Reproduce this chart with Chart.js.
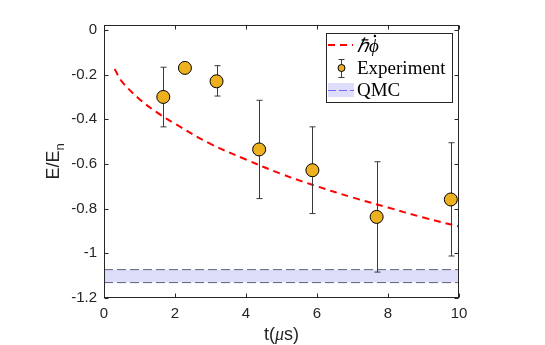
<!DOCTYPE html>
<html>
<head>
<meta charset="utf-8">
<script src="https://cdn.jsdelivr.net/npm/chart.js@4"></script>
<style>
  html, body { margin: 0; padding: 0; background: #fff; }
  #wrap { width: 545px; height: 345px; }
</style>
</head>
<body>
<div id="wrap"><canvas id="myChart" width="545" height="345"></canvas></div>
<script>
// curva hbar*phi-dot
const curveT = [0.3, 0.5, 1, 1.5, 2, 3, 4, 5, 6, 7, 8, 9, 10];
const curveE = [-0.175, -0.23, -0.31, -0.37, -0.42, -0.51, -0.58, -0.645, -0.70, -0.75, -0.795, -0.84, -0.88];

// pontos experimentais e barras de erro
const expT = [1.67, 2.28, 3.17, 4.37, 5.87, 7.68, 9.77];
const expE = [-0.30, -0.17, -0.23, -0.535, -0.628, -0.837, -0.759];
const expErrHi = [-0.167, -0.155, -0.160, -0.315, -0.434, -0.59, -0.505];
const expErrLo = [-0.434, -0.185, -0.296, -0.755, -0.822, -1.084, -1.012];

// faixa QMC
const qmcT = [0, 10];
const qmcTop = [-1.073, -1.073];
const qmcBottom = [-1.131, -1.131];

const xTicks = [0, 2, 4, 6, 8, 10];
const yTicks = [0, -0.2, -0.4, -0.6, -0.8, -1, -1.2];

const corEixo = '#262626';
const corPonto = '#EDB120';
const corQmcLinha = 'rgb(95,95,120)';
const corQmcFaixa = 'rgb(222,222,250)';
const sans = '"Liberation Sans", Arial, sans-serif';
const serif = '"Liberation Serif", "Times New Roman", serif';

function pares(xs, ys) {
    return xs.map((x, i) => ({ x: x, y: ys[i] }));
}

function formatarTick(v) {
    return String(parseFloat(v.toFixed(1)));
}

const pluginErro = {
    id: 'barrasErro',
    beforeDatasetDraw(chart, args) {
        if (args.index !== 0) return;
        const c = chart.ctx, sx = chart.scales.x, sy = chart.scales.y;
        c.save();
        c.strokeStyle = '#3a3a3a';
        c.lineWidth = 1;
        expT.forEach((t, i) => {
            const px = Math.round(sx.getPixelForValue(t)) + 0.5;
            const yh = sy.getPixelForValue(expErrHi[i]);
            const yl = sy.getPixelForValue(expErrLo[i]);
            c.beginPath();
            c.moveTo(px, yh); c.lineTo(px, yl);
            c.moveTo(px - 3, yh); c.lineTo(px + 3, yh);
            c.moveTo(px - 3, yl); c.lineTo(px + 3, yl);
            c.stroke();
        });
        c.restore();
    }
};

const pluginMoldura = {
    id: 'moldura',
    afterDraw(chart) {
        const c = chart.ctx, a = chart.chartArea, sx = chart.scales.x, sy = chart.scales.y;
        const L = Math.round(a.left) + 0.5, R = Math.round(a.right) - 0.5;
        const T = Math.round(a.top) + 0.5, B = Math.round(a.bottom) - 0.5;
        c.save();
        c.strokeStyle = corEixo;
        c.lineWidth = 1;
        c.strokeRect(L, T, R - L, B - T);
        c.beginPath();
        xTicks.forEach(v => {
            const px = Math.round(sx.getPixelForValue(v)) + 0.5;
            c.moveTo(px, B); c.lineTo(px, B - 4);
            c.moveTo(px, T); c.lineTo(px, T + 4);
        });
        yTicks.forEach(v => {
            const py = Math.round(sy.getPixelForValue(v)) + 0.5;
            c.moveTo(L, py); c.lineTo(L + 4, py);
            c.moveTo(R, py); c.lineTo(R - 4, py);
        });
        c.stroke();

        // titulos dos eixos
        c.fillStyle = corEixo;
        c.textBaseline = 'middle';
        c.textAlign = 'left';
        const xt1 = 't(', xt2 = 'μ', xt3 = 's)';
        c.font = '18px ' + sans;
        const w1 = c.measureText(xt1).width, w3 = c.measureText(xt3).width;
        c.font = 'italic 18px ' + serif;
        const w2 = c.measureText(xt2).width;
        const x0 = (a.left + a.right) / 2 - (w1 + w2 + w3) / 2;
        const yTitle = 335;
        c.font = '18px ' + sans;
        c.fillText(xt1, x0, yTitle);
        c.font = 'italic 18px ' + serif;
        c.fillText(xt2, x0 + w1, yTitle);
        c.font = '18px ' + sans;
        c.fillText(xt3, x0 + w1 + w2, yTitle);

        c.save();
        c.translate(54, (a.top + a.bottom) / 2);
        c.rotate(-Math.PI / 2);
        c.font = '18px ' + sans;
        const base = 'E/E';
        const wb = c.measureText(base).width;
        c.font = '13px ' + sans;
        const ws = c.measureText('n').width;
        const sx0 = -(wb + ws) / 2;
        c.font = '18px ' + sans;
        c.fillText(base, sx0, 0);
        c.font = '13px ' + sans;
        c.fillText('n', sx0 + wb, 6);
        c.restore();

        // legenda
        const lx = 326.5, ly = 33.5, lw = 126, lh = 69;
        c.fillStyle = '#fff';
        c.fillRect(lx, ly, lw, lh);
        c.strokeStyle = '#262626';
        c.strokeRect(lx, ly, lw, lh);
        const rows = [45, 68, 90];
        const s0 = 328, s1 = 353;
        // linha vermelha
        c.strokeStyle = '#ff0000';
        c.lineWidth = 2;
        c.setLineDash([7, 5]);
        c.beginPath(); c.moveTo(s0, rows[0]); c.lineTo(s1, rows[0]); c.stroke();
        c.setLineDash([]);
        // marcador com erro
        const mx = 341;
        c.strokeStyle = '#3a3a3a';
        c.lineWidth = 1;
        c.beginPath();
        c.moveTo(mx + 0.5, rows[1] - 9); c.lineTo(mx + 0.5, rows[1] + 9);
        c.moveTo(mx - 2.5, rows[1] - 9 + 0.5); c.lineTo(mx + 3.5, rows[1] - 9 + 0.5);
        c.moveTo(mx - 2.5, rows[1] + 9 + 0.5); c.lineTo(mx + 3.5, rows[1] + 9 + 0.5);
        c.stroke();
        c.beginPath();
        c.arc(mx + 0.5, rows[1], 3.5, 0, Math.PI * 2);
        c.fillStyle = corPonto; c.fill();
        c.strokeStyle = '#000'; c.stroke();
        // faixa qmc
        c.fillStyle = corQmcFaixa;
        c.fillRect(s0, rows[2] - 7, 26, 14);
        c.strokeStyle = 'rgb(110,110,255)';
        c.setLineDash([8, 3]);
        c.beginPath(); c.moveTo(s0, rows[2] + 0.5); c.lineTo(s0 + 26, rows[2] + 0.5); c.stroke();
        c.setLineDash([]);
        // textos
        c.fillStyle = '#000';
        c.textBaseline = 'middle';
        c.textAlign = 'left';
        const rotulo = chart.data.datasets[1].label; // "ℏϕ" + ponto
        c.font = 'italic 19px ' + serif;
        const hb = rotulo.charAt(0);
        const wh = c.measureText(hb).width;
        const wp = c.measureText(rotulo.charAt(1)).width;
        c.fillText(rotulo.slice(0, 2), 357, rows[0] + 2);
        c.beginPath();
        c.arc(357 + wh + wp / 2 + 1, rows[0] - 9, 1.3, 0, Math.PI * 2);
        c.fill();
        c.font = '19px ' + serif;
        c.fillText(chart.data.datasets[0].label, 357, rows[1] + 1);
        c.fillText(chart.data.datasets[2].label, 357, rows[2] + 1);
        c.restore();
    }
};

const ctx = document.getElementById('myChart').getContext('2d');

const fonteTick = { family: sans, size: 15 };

let chart = new Chart(ctx, {
    type: 'scatter',
    data: {
        datasets: [
            {
                label: 'Experiment',
                data: pares(expT, expE),
                backgroundColor: corPonto,
                borderColor: '#000',
                borderWidth: 1,
                pointRadius: 6.5,
                showLine: false
            },
            {
                label: 'ℏϕ̇',
                data: pares(curveT, curveE),
                showLine: true,
                borderColor: '#ff0000',
                borderWidth: 2,
                borderDash: [7, 5],
                pointRadius: 0,
                tension: 0.4,
                fill: false
            },
            {
                label: 'QMC',
                data: pares(qmcT, qmcTop),
                showLine: true,
                borderColor: corQmcLinha,
                borderWidth: 1,
                borderDash: [9, 4],
                pointRadius: 0,
                fill: false
            },
            {
                label: 'QMC2',
                data: pares(qmcT, qmcBottom),
                showLine: true,
                borderColor: corQmcLinha,
                borderWidth: 1,
                borderDash: [9, 4],
                pointRadius: 0,
                backgroundColor: corQmcFaixa,
                fill: '-1'
            }
        ]
    },
    options: {
        responsive: false,
        animation: false,
        layout: { padding: { left: 0, right: 86, top: 25, bottom: 0 } },
        plugins: {
            legend: { display: false },
            tooltip: { enabled: false }
        },
        scales: {
            x: {
                type: 'linear',
                min: 0,
                max: 10,
                afterBuildTicks: s => { s.ticks = xTicks.map(v => ({ value: v })); },
                afterFit: s => { s.height = 47; },
                grid: { display: false, drawTicks: false },
                border: { display: false },
                ticks: { font: fonteTick, color: corEixo, padding: 7, maxRotation: 0, callback: v => formatarTick(v) }
            },
            y: {
                type: 'linear',
                min: -1.2,
                max: 0.022,
                afterBuildTicks: s => { s.ticks = yTicks.map(v => ({ value: v })); },
                afterFit: s => { s.width = 104; },
                grid: { display: false, drawTicks: false },
                border: { display: false },
                ticks: { font: fonteTick, color: corEixo, padding: 7, callback: v => formatarTick(v) }
            }
        }
    },
    plugins: [pluginErro, pluginMoldura]
});
</script>
</body>
</html>
